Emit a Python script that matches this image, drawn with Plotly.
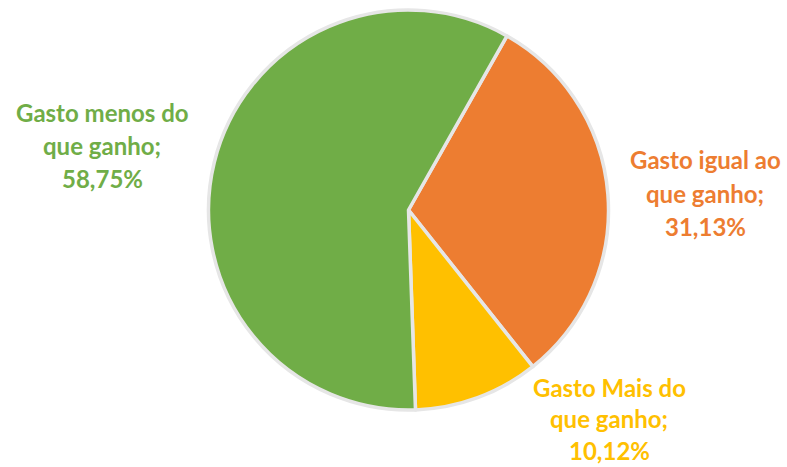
import plotly.graph_objects as go

categories = ["Gasto igual ao que ganho", "Gasto Mais do que ganho", "Gasto menos do que ganho"]
values = [31.13, 10.12, 58.75]
colors = ["#ED7D31", "#FFC000", "#70AD47"]

# label anchor positions (paper coords) for each category's text block
label_x = [705/787, 609/787, 102/787]
label_y_top = [160, 387, 112]  # pixel y of first line
line_gap = [33, 31.5, 33]

W, H = 787, 467

fig = go.Figure(go.Pie(
    labels=categories,
    values=values,
    sort=False,
    direction="clockwise",
    rotation=29.5,
    marker=dict(colors=colors, line=dict(color="#E6E6E6", width=3.5)),
    textinfo="none",
    hoverinfo="label+percent",
    domain=dict(x=[207/W, 610/W], y=[1-410/H, 1-10/H]),
    showlegend=False,
))

annotations = []
for cat, val, col, lx, ly, gap in zip(categories, values, colors, label_x, label_y_top, line_gap):
    words = cat.split(" ")
    lines = [" ".join(words[:-2]), " ".join(words[-2:]) + ";", f"{val:.2f}".replace(".", ",") + "%"]
    for i, line in enumerate(lines):
        annotations.append(dict(
            x=lx, y=1 - (ly + i*gap)/H, xref="paper", yref="paper",
            text=f"<b>{line}</b>", showarrow=False, xanchor="center", yanchor="middle",
            font=dict(family="Lato", size=24, color=col),
        ))

fig.update_layout(
    width=W, height=H,
    margin=dict(l=0, r=0, t=0, b=0),
    paper_bgcolor="white", plot_bgcolor="white",
    annotations=annotations,
)

fig.write_html("out.html")
